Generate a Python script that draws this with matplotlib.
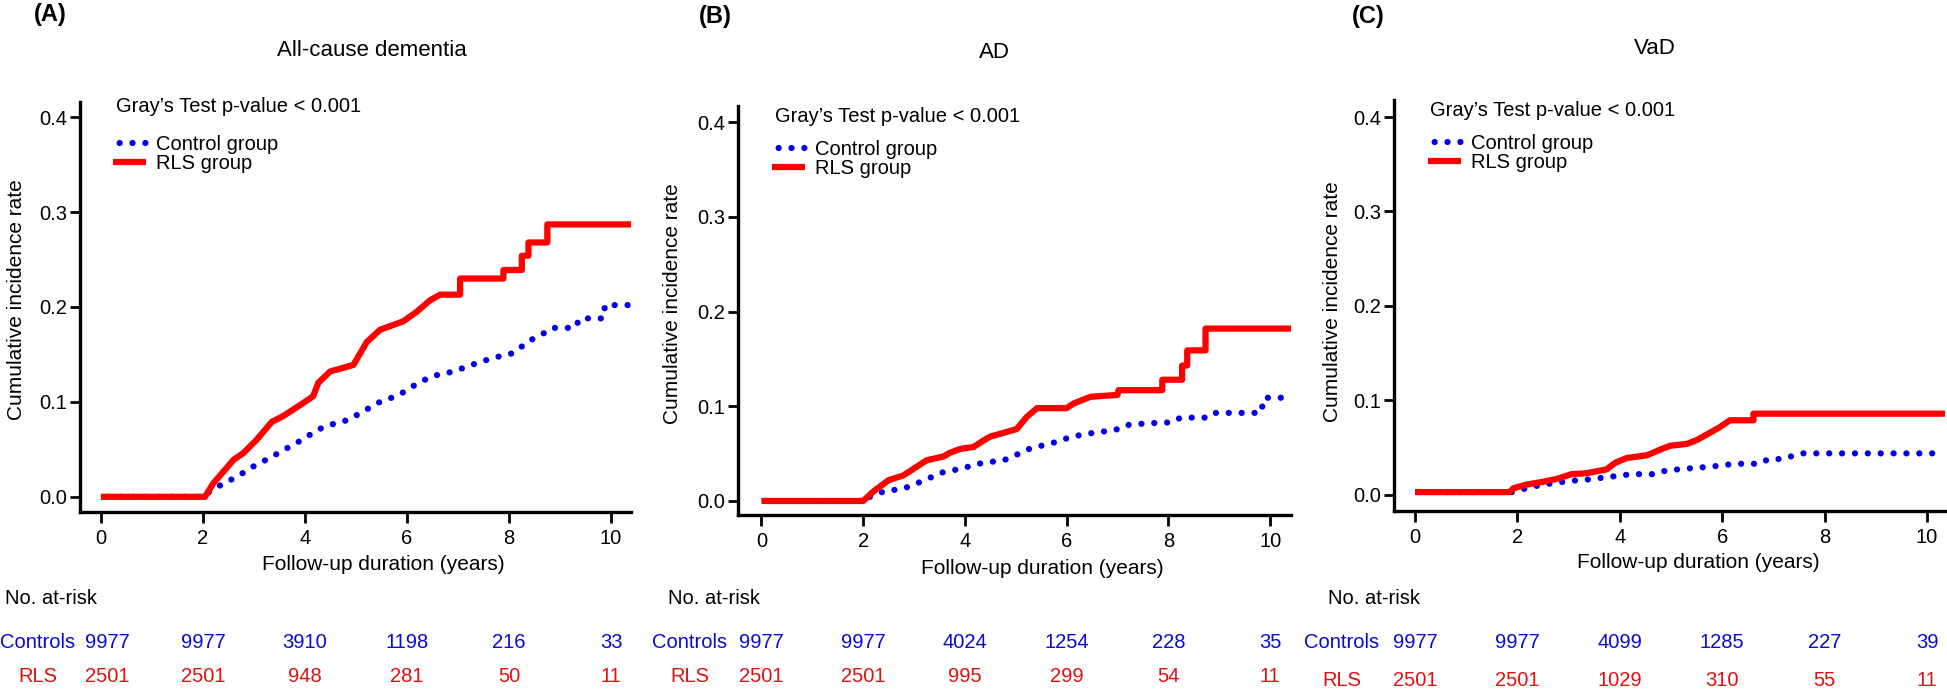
import matplotlib
matplotlib.use('Agg')
import matplotlib.pyplot as plt
from matplotlib.transforms import blended_transform_factory

plt.rcParams['font.family'] = ['Liberation Sans', 'DejaVu Sans']

W, H = 1947, 690

# ---------------- data ----------------
panel_tags = ['(A)', '(B)', '(C)']
panel_titles = ['All-cause dementia', 'AD', 'VaD']
risk_times = [0, 2, 4, 6, 8, 10]

# (A) all-cause dementia
a_rls_t = [0, 2.04, 2.2, 2.6, 2.79, 3.05, 3.35, 3.57, 3.97, 4.16, 4.26, 4.49, 4.95, 5.21, 5.47,
           5.93, 6.19, 6.45, 6.65, 7.04, 7.04, 7.89, 7.89, 8.25, 8.25, 8.38, 8.38, 8.75, 8.75, 10.39]
a_rls_y = [0, 0, 0.014, 0.039, 0.046, 0.060, 0.079, 0.085, 0.099, 0.106, 0.120, 0.132, 0.139, 0.163, 0.176,
           0.185, 0.195, 0.207, 0.213, 0.213, 0.230, 0.230, 0.239, 0.239, 0.254, 0.254, 0.268, 0.268, 0.287, 0.287]
a_ctl_t = [0, 2.0, 2.14, 2.37, 2.66, 2.99, 3.31, 3.64, 3.94, 4.26, 4.62, 4.85, 5.14, 5.47, 5.83, 6.16,
           6.48, 6.91, 7.27, 7.66, 8.05, 8.22, 8.35, 8.67, 8.84, 9.29, 9.39, 9.85, 9.88, 10.39]
a_ctl_y = [0, 0, 0.006, 0.013, 0.021, 0.032, 0.041, 0.051, 0.060, 0.071, 0.078, 0.081, 0.090, 0.100, 0.107, 0.118,
           0.127, 0.132, 0.139, 0.146, 0.151, 0.157, 0.163, 0.172, 0.178, 0.178, 0.188, 0.188, 0.202, 0.202]
a_risk_ctl = [9977, 9977, 3910, 1198, 216, 33]
a_risk_rls = [2501, 2501, 948, 281, 50, 11]

# (B) AD
b_rls_t = [0, 2.0, 2.2, 2.5, 2.79, 3.25, 3.58, 3.71, 3.91, 4.17, 4.37, 4.5, 4.83, 5.02, 5.22, 5.42, 6.0,
           6.14, 6.47, 7.0, 7.02, 7.88, 7.88, 8.27, 8.27, 8.37, 8.37, 8.73, 8.73, 10.41]
b_rls_y = [0, 0, 0.010, 0.022, 0.027, 0.043, 0.047, 0.051, 0.055, 0.057, 0.064, 0.068, 0.073, 0.076, 0.089, 0.098, 0.098,
           0.103, 0.110, 0.112, 0.117, 0.117, 0.128, 0.128, 0.143, 0.143, 0.159, 0.159, 0.182, 0.182]
b_ctl_t = [0, 2.0, 2.07, 2.4, 2.79, 3.12, 3.55, 3.91, 4.33, 4.76, 4.96, 5.12, 5.32, 5.71, 6.11, 6.53,
           6.96, 7.16, 7.58, 8.07, 8.24, 8.76, 8.89, 9.82, 9.88, 10.41]
b_ctl_y = [0, 0, 0.003, 0.010, 0.013, 0.020, 0.030, 0.034, 0.040, 0.043, 0.047, 0.052, 0.056, 0.061, 0.068, 0.072,
           0.075, 0.080, 0.082, 0.083, 0.088, 0.088, 0.093, 0.093, 0.109, 0.109]
b_risk_ctl = [9977, 9977, 4024, 1254, 228, 35]
b_risk_rls = [2501, 2501, 995, 299, 54, 11]

# (C) VaD
c_rls_t = [0, 1.85, 1.92, 2.18, 2.51, 2.77, 3.06, 3.35, 3.74, 3.91, 4.13, 4.53, 4.79, 4.98, 5.31, 5.5,
           5.7, 5.96, 6.15, 6.61, 6.61, 10.35]
c_rls_y = [0.003, 0.003, 0.007, 0.011, 0.014, 0.017, 0.022, 0.023, 0.027, 0.034, 0.039, 0.042, 0.048, 0.052, 0.054, 0.058,
           0.064, 0.072, 0.079, 0.079, 0.086, 0.086]
c_ctl_t = [0, 1.9, 2.31, 2.64, 3.06, 3.32, 3.78, 4.23, 4.65, 4.92, 5.34, 5.79, 6.25, 6.74, 6.9, 7.16,
           7.36, 7.55, 10.3]
c_ctl_y = [0.003, 0.003, 0.009, 0.012, 0.015, 0.016, 0.019, 0.022, 0.022, 0.026, 0.028, 0.030, 0.033, 0.033, 0.038, 0.038,
           0.041, 0.044, 0.044]
c_risk_ctl = [9977, 9977, 4099, 1285, 227, 39]
c_risk_rls = [2501, 2501, 1029, 310, 55, 11]

curves = [(a_ctl_t, a_ctl_y, a_rls_t, a_rls_y),
          (b_ctl_t, b_ctl_y, b_rls_t, b_rls_y),
          (c_ctl_t, c_ctl_y, c_rls_t, c_rls_y)]
risks = [(a_risk_ctl, a_risk_rls), (b_risk_ctl, b_risk_rls), (c_risk_ctl, c_risk_rls)]

# ---------------- layout (pixel positions in the 1947x690 canvas) ----------------
layout = [
    dict(box=(80, 102, 631, 512), xlim=(-0.41, 10.39), ylim=(-0.016, 0.416), tag=(50, 15), title=(372, 50),
         gray=(116, 106), leg=(113, 135), ylab=(17, 300), xlab=(383, 565), norisk=(5, 598), rowlab=38,
         rows=(643, 677), shift0=0.12),
    dict(box=(738, 106, 1291, 515), xlim=(-0.46, 10.41), ylim=(-0.0148, 0.417), tag=(715, 17), title=(994, 53),
         gray=(775, 116), leg=(772, 140), ylab=(673, 304), xlab=(1042, 568), norisk=(668, 598), rowlab=690,
         rows=(643, 677), shift0=0.0),
    dict(box=(1394, 100, 1946, 511), xlim=(-0.41, 10.37), ylim=(-0.017, 0.418), tag=(1368, 17), title=(1655, 48),
         gray=(1430, 110), leg=(1428, 134), ylab=(1332, 302), xlab=(1698, 563), norisk=(1328, 598), rowlab=1342,
         rows=(643, 680), shift0=0.0),
]

BLUE = '#0000e6'
RED = '#ff0000'
BLUE_TXT = '#0a0ad2'
RED_TXT = '#e01010'
FS = 14.5


def fx(x):
    return x / W


def fy(y):
    return 1 - y / H


fig = plt.figure(figsize=(W / 100, H / 100), dpi=100)

for i in range(3):
    L = layout[i]
    l, t, r, b = L['box']
    ax = fig.add_axes([fx(l), fy(b), (r - l) / W, (b - t) / H])
    ctl_t, ctl_y, rls_t, rls_y = curves[i]
    ax.plot(ctl_t, ctl_y, color=BLUE, lw=4.5, linestyle=(1.0, (0.01, 2.05)), dash_capstyle='round',
            label='Control group', zorder=2)
    ax.plot(rls_t, rls_y, color=RED, lw=4.5, solid_capstyle='butt', label='RLS group', zorder=3)

    ax.set_xlim(*L['xlim'])
    ax.set_ylim(*L['ylim'])
    ax.set_xticks(risk_times)
    ax.set_yticks([0.0, 0.1, 0.2, 0.3, 0.4])
    ax.set_yticklabels(['0.0', '0.1', '0.2', '0.3', '0.4'])
    for s in ['top', 'right']:
        ax.spines[s].set_visible(False)
    for s in ['left', 'bottom']:
        ax.spines[s].set_linewidth(2.4)
    ax.tick_params(axis='x', length=8, width=2, pad=4, labelsize=FS)
    ax.tick_params(axis='y', length=7.5, width=2, pad=2, labelsize=FS)

    ax.legend(loc='upper left', bbox_to_anchor=(fx(L['leg'][0]), fy(L['leg'][1])),
              bbox_transform=fig.transFigure, frameon=False, fontsize=FS,
              handlelength=1.65, handletextpad=0.5, labelspacing=0.0,
              borderpad=0, borderaxespad=0)

    fig.text(fx(L['tag'][0]), fy(L['tag'][1]), panel_tags[i], ha='center', va='center',
             fontsize=17, fontweight='bold')
    fig.text(fx(L['title'][0]), fy(L['title'][1]), panel_titles[i], ha='center', va='center', fontsize=16)
    fig.text(fx(L['gray'][0]), fy(L['gray'][1]), "Gray\u2019s Test p-value < 0.001", ha='left', va='center',
             fontsize=FS)
    fig.text(fx(L['ylab'][0]), fy(L['ylab'][1]), 'Cumulative incidence rate', ha='center', va='center',
             rotation=90, fontsize=15)
    fig.text(fx(L['xlab'][0]), fy(L['xlab'][1]), 'Follow-up duration (years)', ha='center', va='center',
             fontsize=15)
    fig.text(fx(L['norisk'][0]), fy(L['norisk'][1]), 'No. at-risk', ha='left', va='center', fontsize=FS)

    y1, y2 = L['rows']
    fig.text(fx(L['rowlab']), fy(y1), 'Controls', ha='center', va='center', fontsize=FS, color=BLUE_TXT)
    fig.text(fx(L['rowlab']), fy(y2), 'RLS', ha='center', va='center', fontsize=FS, color=RED_TXT)

    trans = blended_transform_factory(ax.transData, fig.transFigure)
    risk_ctl, risk_rls = risks[i]
    for k, (tt, n1, n2) in enumerate(zip(risk_times, risk_ctl, risk_rls)):
        xpos = tt + (L['shift0'] if k == 0 else 0)
        ax.text(xpos, fy(y1), str(n1), transform=trans, ha='center', va='center', fontsize=FS, color=BLUE_TXT)
        ax.text(xpos, fy(y2), str(n2), transform=trans, ha='center', va='center', fontsize=FS, color=RED_TXT)

fig.savefig('out.png', dpi=100)
